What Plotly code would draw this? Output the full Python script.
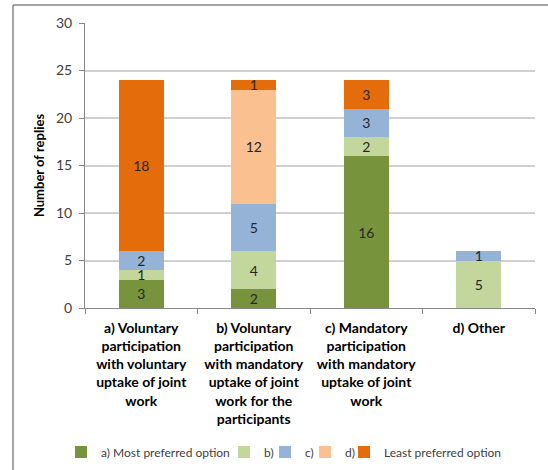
import plotly.graph_objects as go

categories = [
    "a) Voluntary<br>participation<br>with voluntary<br>uptake of joint<br>work",
    "b) Voluntary<br>participation<br>with mandatory<br>uptake of joint<br>work for the<br>participants",
    "c) Mandatory<br>participation<br>with mandatory<br>uptake of joint<br>work",
    "d) Other",
]

series_names = ["a) Most preferred option", "b)", "c)", "d)", "Least preferred option"]
most_preferred = [3, 2, 16, 0]
option_b = [1, 4, 2, 5]
option_c = [2, 5, 3, 1]
option_d = [0, 12, 0, 0]
least_preferred = [18, 1, 3, 0]
series_values = [most_preferred, option_b, option_c, option_d, least_preferred]
colors = ["#77933C", "#C3D69B", "#95B3D7", "#FAC090", "#E46C0A"]

y_ticks = [0, 5, 10, 15, 20, 25, 30]

FONT = "Lato, Carlito, Calibri, sans-serif"

# one legend box per series so the entries can be spaced tightly in one row
legend_ids = ["legend", "legend2", "legend3", "legend4", "legend5"]
legend_x = [-0.0533, 0.3089, 0.40, 0.4889, 0.5756]

fig = go.Figure()
for name, vals, col, lid in zip(series_names, series_values, colors, legend_ids):
    fig.add_trace(go.Bar(
        x=categories,
        y=vals,
        name=name,
        legend=lid,
        marker=dict(color=col, line=dict(width=0)),
        text=[str(v) if v else "" for v in vals],
        textposition="inside",
        insidetextanchor="middle",
        constraintext="none",
        textangle=0,
        textfont=dict(family=FONT, size=14, color="#262626"),
        hoverinfo="skip",
    ))

legend_style = dict(
    orientation="h",
    xanchor="left",
    y=-0.505, yanchor="middle",
    font=dict(family=FONT, size=12, color="#404040"),
    itemwidth=30,
    borderwidth=0,
    bgcolor="rgba(0,0,0,0)",
)
legends = {lid: dict(legend_style, x=lx) for lid, lx in zip(legend_ids, legend_x)}

# outer chart frame (top and left edges)
frame = dict(color="#868686", width=1.5)
fig.add_shape(type="line", xref="paper", yref="paper",
              x0=-0.16, x1=1.06, y0=1.063, y1=1.063, line=frame)
fig.add_shape(type="line", xref="paper", yref="paper",
              x0=-0.16, x1=-0.16, y0=1.063, y1=-0.7, line=frame)

fig.update_layout(
    width=548,
    height=470,
    margin=dict(l=85, r=13, t=23, b=162, autoexpand=False),
    barmode="stack",
    bargap=0.6,
    plot_bgcolor="white",
    paper_bgcolor="white",
    font=dict(family=FONT, size=13, color="#000000"),
    showlegend=True,
    xaxis=dict(
        showline=True,
        linecolor="#868686",
        linewidth=1,
        ticks="outside",
        ticklen=5,
        tickcolor="#868686",
        tickson="boundaries",
        ticklabelstandoff=7,
        automargin=False,
        tickfont=dict(family=FONT, size=14, color="#000000", weight="bold"),
        showgrid=False,
        fixedrange=True,
    ),
    yaxis=dict(
        range=[0, 30],
        tickvals=y_ticks,
        showline=True,
        linecolor="#868686",
        linewidth=1,
        ticks="outside",
        ticklen=5,
        tickcolor="#868686",
        ticklabelstandoff=4,
        showgrid=True,
        gridcolor="#D0D0D0",
        gridwidth=1.5,
        zeroline=False,
        automargin=False,
        tickfont=dict(family=FONT, size=14, color="#404040"),
        title=dict(text="Number of replies",
                   font=dict(family=FONT, size=13, color="#000000", weight="bold"),
                   standoff=8),
    ),
    **legends,
)

fig.write_html("out.html")
